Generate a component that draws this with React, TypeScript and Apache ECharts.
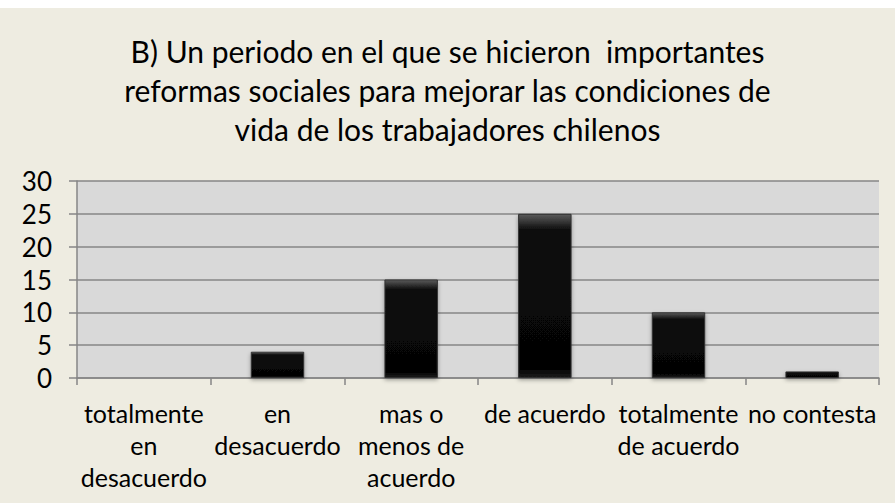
import React, { useEffect, useRef } from "react";
import * as echarts from "echarts";

const titleLines = [
  "B) Un periodo en el que se hicieron  importantes",
  "reformas sociales para mejorar las condiciones de",
  "vida de los trabajadores chilenos",
];
const categories = [
  "totalmente\nen\ndesacuerdo",
  "en\ndesacuerdo",
  "mas o\nmenos de\nacuerdo",
  "de acuerdo",
  "totalmente\nde acuerdo",
  "no contesta",
];
const values = [0, 4, 15, 25, 10, 1];
const yMin = 0;
const yMax = 30;
const yStep = 5;

const FONT = "Lato, 'Open Sans', sans-serif";

export default function App() {
  const ref = useRef<HTMLDivElement>(null);
  useEffect(() => {
    if (!ref.current) return;
    const chart = echarts.init(ref.current, undefined, { renderer: "svg" });
    chart.setOption({
      animation: false,
      backgroundColor: "#EEECE1",
      graphic: [
        {
          type: "text",
          left: "center",
          top: 23,
          style: {
            text: titleLines.join("\n"),
            fontFamily: FONT,
            fontSize: 30,
            fill: "#000",
            lineHeight: 39,
            textAlign: "center",
          },
        },
      ],
      grid: {
        left: 77,
        right: 16,
        top: 173,
        bottom: 125,
        show: true,
        backgroundColor: "#D9D9D9",
        borderWidth: 0,
      },
      xAxis: {
        type: "category",
        data: categories,
        axisLine: { show: true, lineStyle: { color: "#868686", width: 1.5 } },
        axisTick: { show: true, length: 7, alignWithLabel: false, lineStyle: { color: "#868686", width: 1.5 } },
        axisLabel: {
          interval: 0,
          fontFamily: FONT,
          fontSize: 25,
          lineHeight: 32,
          color: "#000",
          margin: 19,
        },
      },
      yAxis: {
        type: "value",
        min: yMin,
        max: yMax,
        interval: yStep,
        axisLine: { show: true, lineStyle: { color: "#868686", width: 1.5 } },
        axisTick: { show: true, length: 8, lineStyle: { color: "#868686", width: 1.5 } },
        splitLine: { show: true, lineStyle: { color: "#868686", width: 1.5 } },
        axisLabel: {
          fontFamily: FONT,
          fontSize: 26,
          color: "#000",
          margin: 25,
        },
      },
      series: [
        {
          type: "bar",
          data: values,
          barWidth: "40%",
          itemStyle: {
            color: new echarts.graphic.LinearGradient(0, 0, 0, 1, [
              { offset: 0, color: "#5a5a5a" },
              { offset: 0.1, color: "#0a0a0a" },
              { offset: 0.95, color: "#050505" },
              { offset: 1, color: "#1c1c1c" },
            ]),
            borderColor: "#333",
            borderWidth: 1,
            shadowBlur: 4,
            shadowColor: "rgba(0,0,0,0.35)",
            shadowOffsetY: 2,
          },
        },
      ],
    });
    return () => chart.dispose();
  }, []);
  return (
    <div
      ref={ref}
      style={{ position: "absolute", left: 0, top: 8, width: 895, height: 495 }}
    />
  );
}
